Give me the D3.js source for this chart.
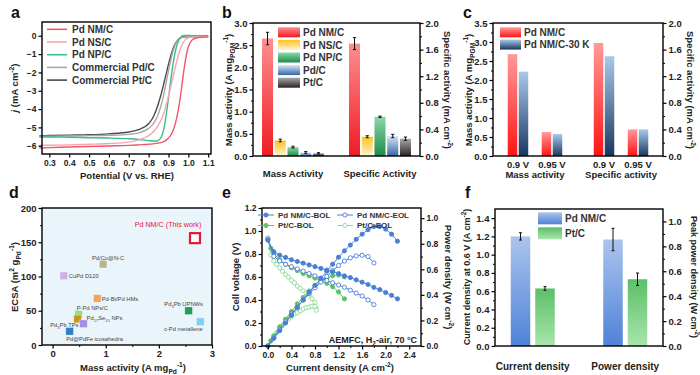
<!DOCTYPE html>
<html><head><meta charset="utf-8">
<script src="https://cdn.jsdelivr.net/npm/d3@7"></script>
<style>body{margin:0;background:#fff} svg{display:block}</style>
</head><body><svg id="c" width="700" height="375"></svg>
<script>
// ---------------- DATA ----------------
// Panel a: LSV curves
const aPotential = [0.25,0.3,0.4,0.5,0.6,0.7,0.75,0.8,0.82,0.84,0.86,0.87,0.88,0.89,0.9,0.91,0.92,0.93,0.94,0.95,0.96,0.97,0.98,0.99,1.0,1.02,1.04,1.07,1.1];
const aSeries = ["Pd NM/C","Pd NS/C","Pd NP/C","Commercial Pd/C","Commercial Pt/C"];
const aNM = [-6.12,-6.1,-6.07,-6.04,-6.01,-5.98,-5.95,-5.92,-5.9,-5.87,-5.83,-5.8,-5.75,-5.68,-5.58,-5.45,-5.25,-4.95,-4.55,-4.0,-3.3,-2.5,-1.7,-1.05,-0.6,-0.22,-0.12,-0.08,-0.06];
const aNS = [-5.98,-5.97,-5.95,-5.92,-5.88,-5.8,-5.68,-5.45,-5.28,-5.02,-4.65,-4.4,-4.1,-3.72,-3.3,-2.85,-2.38,-1.9,-1.45,-1.05,-0.72,-0.45,-0.28,-0.18,-0.12,-0.08,-0.06,-0.05,-0.05];
const aNP = [-5.52,-5.52,-5.54,-5.56,-5.58,-5.62,-5.66,-5.72,-5.74,-5.74,-5.6,-5.35,-4.9,-4.2,-3.4,-2.55,-1.75,-1.1,-0.6,-0.28,-0.1,0.0,0.02,0.02,0.02,0.0,0.0,0.0,0.0];
const aPdC = [-5.48,-5.48,-5.47,-5.45,-5.43,-5.38,-5.3,-5.05,-4.85,-4.5,-3.9,-3.5,-3.0,-2.45,-1.9,-1.4,-0.95,-0.6,-0.35,-0.2,-0.12,-0.08,-0.06,-0.05,-0.05,-0.05,-0.05,-0.05,-0.05];
const aPtC = [-5.45,-5.44,-5.42,-5.4,-5.35,-5.25,-5.12,-4.8,-4.5,-4.0,-3.3,-2.9,-2.45,-2.0,-1.55,-1.15,-0.8,-0.52,-0.33,-0.2,-0.13,-0.09,-0.07,-0.06,-0.05,-0.05,-0.05,-0.05,-0.05];
const aXTicks = [0.3,0.4,0.5,0.6,0.7,0.8,0.9,1.0,1.1];
const aYTicks = [-6,-5,-4,-3,-2,-1,0];

// Panel b
const bSeries = ["Pd NM/C","Pd NS/C","Pd NP/C","Pd/C","Pt/C"];
const bGroups = ["Mass Activity","Specific Activity"];
const bMass = [2.65,0.35,0.20,0.08,0.06];
const bMassErr = [0.14,0.03,0.02,0.02,0.015];
const bSpec = [1.69,0.29,0.59,0.30,0.26];
const bSpecErr = [0.09,0.015,0.01,0.025,0.025];
const bLeftTicks = [0,0.5,1.0,1.5,2.0,2.5,3.0];
const bRightTicks = [0,0.4,0.8,1.2,1.6,2.0];

// Panel c
const cSeries = ["Pd NM/C","Pd NM/C-30 K"];
const cGroups = ["Mass activity","Specific activity"];
const cVolts = ["0.9 V","0.95 V"];
const cMassNM = [2.68,0.63];
const cMass30K = [2.22,0.58];
const cSpecNM = [1.70,0.40];
const cSpec30K = [1.50,0.40];
const cLeftTicks = [0,0.5,1.0,1.5,2.0,2.5,3.0,3.5];
const cRightTicks = [0,0.4,0.8,1.2,1.6,2.0];

// Panel d
const dNames = ["Pd NM/C (This work)","Pd/Co@N-C","CuPd D120","Pd-Bi/Pd HMs","P-Pd NPs/C","Pd17Se15 NPs","Pd3Pb TPs","Pd@PdFe icosahedra","Pd3Pb UPNWs","c-Pd metallene"];
const dMass = [2.68,0.95,0.21,0.84,0.49,0.47,0.58,0.32,2.56,2.78];
const dECSA = [156,118,101,68,45,38,31,20,50,34];
const dXTicks = [0,1,2,3];
const dYTicks = [0,50,100,150,200];

// Panel e
const eSeries = ["Pd NM/C-BOL","Pd NM/C-EOL","Pt/C-BOL","Pt/C-EOL"];
const eI_nmBol = [0,0.1,0.2,0.3,0.4,0.5,0.6,0.7,0.8,0.9,1.0,1.1,1.2,1.3,1.4,1.5,1.6,1.7,1.8,1.9,2.0,2.1,2.2];
const eV_nmBol = [0.92,0.82,0.79,0.77,0.75,0.735,0.72,0.705,0.69,0.675,0.66,0.645,0.63,0.61,0.595,0.575,0.555,0.535,0.51,0.49,0.465,0.44,0.41];
const eP_nmBol = [0,0.06,0.12,0.18,0.24,0.30,0.36,0.42,0.475,0.53,0.585,0.64,0.695,0.745,0.79,0.835,0.875,0.91,0.935,0.935,0.915,0.875,0.82];
const eI_nmEol = [0,0.1,0.2,0.3,0.4,0.5,0.6,0.7,0.8,0.9,1.0,1.1,1.2,1.3,1.4,1.5,1.6,1.7,1.8];
const eV_nmEol = [0.93,0.78,0.74,0.71,0.69,0.67,0.65,0.63,0.61,0.59,0.57,0.55,0.53,0.51,0.485,0.46,0.435,0.40,0.36];
const eP_nmEol = [0,0.065,0.13,0.19,0.25,0.305,0.36,0.41,0.455,0.5,0.545,0.59,0.63,0.665,0.69,0.705,0.71,0.7,0.65];
const eI_ptBol = [0,0.05,0.1,0.2,0.3,0.4,0.5,0.6,0.7,0.8,0.9,1.0,1.1,1.2,1.3];
const eV_ptBol = [0.93,0.85,0.80,0.75,0.71,0.68,0.655,0.63,0.61,0.59,0.57,0.545,0.515,0.47,0.41];
const eP_ptBol = [0,0.04,0.08,0.15,0.21,0.27,0.33,0.38,0.43,0.47,0.505,0.53,0.55,0.555,0.54];
const eI_ptEol = [0,0.05,0.1,0.15,0.2,0.25,0.3,0.35,0.4,0.45,0.5,0.55,0.6,0.65,0.7,0.75,0.8,0.82];
const eV_ptEol = [0.94,0.79,0.74,0.71,0.68,0.65,0.62,0.60,0.57,0.55,0.52,0.50,0.48,0.46,0.44,0.41,0.38,0.33];
const eP_ptEol = [0,0.04,0.075,0.105,0.135,0.16,0.185,0.21,0.23,0.25,0.26,0.275,0.29,0.30,0.305,0.31,0.31,0.28];
const eXTicks = [0,0.4,0.8,1.2,1.6,2.0,2.4];
const eLeftTicks = [0,0.2,0.4,0.6,0.8,1.0,1.2];
const eRightTicks = [0,0.2,0.4,0.6,0.8,1.0];

// Panel f
const fSeries = ["Pd NM/C","Pt/C"];
const fGroups = ["Current density","Power density"];
const fNM = [1.20,0.855];
const fNMErr = [0.04,0.09];
const fPt = [0.63,0.536];
const fPtErr = [0.02,0.05];
const fLeftTicks = [0,0.2,0.4,0.6,0.8,1.0,1.2,1.4];
const fRightTicks = [0,0.2,0.4,0.6,0.8,1.0];

// ---------------- HELPERS ----------------
const FONT = "'Liberation Sans', Arial, Helvetica, sans-serif";
const svg = d3.select("#c").attr("font-family", FONT);
svg.append("rect").attr("width",700).attr("height",375).attr("fill","#fff");
const defs = svg.append("defs");
function grad(id, top, bottom, mid) {
  const lg = defs.append("linearGradient").attr("id",id).attr("x1",0).attr("y1",0).attr("x2",0).attr("y2",1);
  lg.append("stop").attr("offset","0%").attr("stop-color",top);
  if (mid) lg.append("stop").attr("offset","50%").attr("stop-color",mid);
  lg.append("stop").attr("offset","100%").attr("stop-color",bottom);
  return `url(#${id})`;
}
function rich(parent, parts, fs, weight) {
  const t = parent.append("text").attr("font-size", fs).attr("font-weight", weight||"bold").attr("fill","#222");
  let shift = 0;
  parts.forEach(p => {
    let s = p, k = "n";
    if (Array.isArray(p)) { s = p[0]; k = p[1]; }
    const target = k==="sub" ? 0.28*fs : k==="sup" ? -0.42*fs : 0;
    const ts = t.append("tspan").text(s).attr("dy", target - shift);
    shift = target;
    if (k==="sub"||k==="sup") ts.attr("font-size", 0.7*fs);
    if (k==="i") ts.attr("font-style","italic");
  });
  return t;
}
function title(x, y, rot, parts, fs) {
  const g = svg.append("g").attr("transform", `translate(${x},${y}) rotate(${rot})`);
  rich(g, parts, fs).attr("text-anchor","middle").attr("y", 0.35*fs);
}
function label(x, y, parts, fs, anchor) {
  rich(svg, parts, fs).attr("x", x).attr("y", y).attr("text-anchor", anchor||"middle");
}
function axis(orient, scale, ticks, fmt, pos, fs, minor) {
  const gen = {bottom:d3.axisBottom,left:d3.axisLeft,right:d3.axisRight}[orient];
  const ax = gen(scale).tickValues(ticks).tickFormat(fmt).tickSizeInner(3.5).tickSizeOuter(0).tickPadding(2);
  const tr = orient==="bottom" ? `translate(0,${pos})` : `translate(${pos},0)`;
  const a = svg.append("g").attr("transform", tr).call(ax).attr("font-family", FONT).attr("font-size", fs).attr("font-weight","bold");
  a.select(".domain").remove();
  a.selectAll("line").attr("stroke","#000").attr("stroke-width",1.2);
  a.selectAll("text").attr("fill","#222");
  if (minor) {
    const m = svg.append("g").attr("transform", tr).call(gen(scale).tickValues(minor).tickFormat("").tickSizeInner(2).tickSizeOuter(0));
    m.select(".domain").remove();
    m.selectAll("line").attr("stroke","#000").attr("stroke-width",1);
  }
}
function frame(x0, y0, x1, y1, fill) {
  svg.append("rect").attr("x",x0).attr("y",y0).attr("width",x1-x0).attr("height",y1-y0)
    .attr("fill", fill||"none").attr("stroke","#000").attr("stroke-width",1.4);
}
function letter(ch, x, y) {
  svg.append("text").attr("x",x).attr("y",y).text(ch).attr("font-size",16).attr("font-weight","bold").attr("fill","#111");
}
function errBar(g, x, y0, y1, cap) {
  g.append("line").attr("x1",x).attr("x2",x).attr("y1",y0).attr("y2",y1).attr("stroke","#111").attr("stroke-width",1);
  [y0,y1].forEach(y => g.append("line").attr("x1",x-cap).attr("x2",x+cap).attr("y1",y).attr("y2",y).attr("stroke","#111").attr("stroke-width",1));
}
const f1 = d3.format(".1f");
const range = (a,b,s) => d3.range(a, b+1e-9, s);

// ---------------- PANEL A ----------------
{
  const x = d3.scaleLinear().domain([0.263,1.114]).range([42,211]);
  const y = d3.scaleLinear().domain([-6.45,0.75]).range([154,22]);
  const cols = ["#f0566c","#f5a7ae","#3dbb8f","#a8a8a8","#4a4a4a"];
  const ys = [aNM, aNS, aNP, aPdC, aPtC];
  const line = d3.line().x(d => x(d[0])).y(d => y(d[1])).curve(d3.curveMonotoneX);
  const g = svg.append("g");
  [4,3,2,1,0].forEach(i => {
    g.append("path").attr("d", line(aPotential.map((v,k)=>[v, ys[i][k]])))
      .attr("fill","none").attr("stroke",cols[i]).attr("stroke-width",1.4);
  });
  frame(42,22,211,154);
  axis("bottom", x, aXTicks, f1, 154, 8.5);
  axis("left", y, aYTicks, d3.format("d"), 42, 8.5);
  aSeries.forEach((s,i) => {
    const yy = 29.3 + i*12.7;
    svg.append("line").attr("x1",47).attr("x2",67).attr("y1",yy).attr("y2",yy).attr("stroke",cols[i]).attr("stroke-width",1.6);
    svg.append("text").attr("x",72).attr("y",yy+3.6).text(s).attr("font-size",10).attr("font-weight","bold").attr("fill","#333");
  });
  title(15, 88, -90, [["j","i"]," (mA cm",["-2","sup"],")"], 9.5);
  label(127, 178.5, ["Potential (V vs. RHE)"], 9.5);
  letter("a", 11, 18);
}

// ---------------- PANEL B ----------------
{
  const yL = d3.scaleLinear().domain([0,3]).range([156,23]);
  const yR = d3.scaleLinear().domain([0,2]).range([156,23]);
  const xg = d3.scalePoint().domain(bGroups).range([253,420]).padding(0.46);
  const xi = d3.scaleBand().domain(bSeries).range([-31,31]).paddingInner(0.134).paddingOuter(0);
  const fills = [
    grad("bR","#ff8e8e","#ee1c24"),
    grad("bY","#ffc21e","#fff3d2"),
    grad("bG","#8ad9a6","#1e8a4c"),
    grad("bB","#d6e5f5","#3566a6"),
    grad("bK","#a8a8a8","#2e2222")
  ];
  const g = svg.append("g");
  bGroups.forEach((grp, gi) => {
    const vals = gi===0 ? bMass : bSpec, errs = gi===0 ? bMassErr : bSpecErr, sc = gi===0 ? yL : yR;
    bSeries.forEach((s, i) => {
      const x0 = xg(grp) + xi(s), w = xi.bandwidth();
      g.append("rect").attr("x",x0).attr("y",sc(vals[i])).attr("width",w).attr("height",sc(0)-sc(vals[i]))
        .attr("fill",fills[i]);
      errBar(g, x0+w/2, sc(vals[i]+errs[i]), sc(vals[i]-errs[i]), 1.6);
    });
    label(xg(grp), 176.5, [grp], 9.5);
  });
  frame(253,23,420,156);
  axis("left", yL, bLeftTicks, f1, 253, 9.5, range(0.25,2.75,0.5));
  axis("right", yR, bRightTicks, f1, 420, 9.5, range(0.2,1.8,0.4));
  bSeries.forEach((s,i) => {
    const yy = 32.3 + i*12.6;
    svg.append("rect").attr("x",278).attr("y",yy-5).attr("width",22).attr("height",10).attr("fill",fills[i]);
    svg.append("text").attr("x",303).attr("y",yy+3.6).text(s).attr("font-size",10).attr("font-weight","bold").attr("fill","#333");
  });
  title(229, 90, -90, ["Mass activity (A mg",["PGM","sub"],["-1","sup"],")"], 9.5);
  title(447, 90, 90, ["Specific activity (mA cm",["-2","sup"],")"], 9.5);
  letter("b", 222, 18);
}

// ---------------- PANEL C ----------------
{
  const yL = d3.scaleLinear().domain([0,3.5]).range([156,23]);
  const yR = d3.scaleLinear().domain([0,2]).range([156,23]);
  const xg = d3.scalePoint().domain(cGroups).range([493,663]).padding(0.488);
  const xv = d3.scalePoint().domain(cVolts).range([-17,17]);
  const xs = d3.scaleBand().domain(cSeries).range([-10.25,10.25]).paddingInner(0.136).paddingOuter(0);
  const fills = [grad("cR","#ff9a9a","#ff1414"), grad("cB","#a9c9ea","#1b3761")];
  const g = svg.append("g");
  cGroups.forEach((grp, gi) => {
    const sets = gi===0 ? [cMassNM, cMass30K] : [cSpecNM, cSpec30K];
    const sc = gi===0 ? yL : yR;
    cVolts.forEach((v, vi) => {
      cSeries.forEach((s, si) => {
        const val = sets[si][vi];
        const x0 = xg(grp) + xv(v) + xs(s);
        g.append("rect").attr("x",x0).attr("y",sc(val)).attr("width",xs.bandwidth()).attr("height",sc(0)-sc(val)).attr("fill",fills[si]);
      });
      label(xg(grp)+xv(v), 167.5, [v], 9.5);
    });
    label(xg(grp), 178, [grp], 9.5);
  });
  frame(493,23,663,156);
  axis("left", yL, cLeftTicks, f1, 493, 9.5, range(0.25,3.25,0.5));
  axis("right", yR, cRightTicks, f1, 663, 9.5, range(0.2,1.8,0.4));
  cSeries.forEach((s,i) => {
    const yy = 32.3 + i*12.3;
    svg.append("rect").attr("x",500).attr("y",yy-5).attr("width",21).attr("height",10).attr("fill",fills[i]);
    svg.append("text").attr("x",524).attr("y",yy+3.6).text(s).attr("font-size",10).attr("font-weight","bold").attr("fill","#333");
  });
  title(469, 90, -90, ["Mass activity (A mg",["PGM","sub"],["-1","sup"],")"], 9.5);
  title(690, 90, 90, ["Specific activity (mA cm",["-2","sup"],")"], 9.5);
  letter("c", 463, 18);
}

// ---------------- PANEL D ----------------
{
  const x = d3.scaleLinear().domain([-0.2,3]).range([42,212]);
  const y = d3.scaleLinear().domain([0,200]).range([345,208]);
  frame(42,208,212,345,"#eaf5fb");
  const cols = ["#e8173a","#b7b58c","#c9b3e6","#f7a35c","#98d98e","#c9961c","#a48ee8","#2f7fc1","#1f9e5a","#7fcff5"];
  // label placement: [dx, dy, anchor]
  const lab = [[-27,-11,"middle"],[5,-4.5,"middle"],[5,2,"start"],[4.5,2.2,"start"],[-2,-4,"start"],[9,1.5,"start"],[-5,3.5,"end"],[-3.5,9.5,"start"],[-5,-4.5,"middle"],[-17,9.5,"middle"]];
  const nameParts = [
    ["Pd NM/C (This work)"],["Pd/Co@N-C"],["CuPd D120"],["Pd-Bi/Pd HMs"],["P-Pd NPs/C"],
    ["Pd",["17","sub"],"Se",["15","sub"]," NPs"],["Pd",["3","sub"],"Pb TPs"],["Pd@PdFe icosahedra"],
    ["Pd",["3","sub"],"Pb UPNWs"],["c-Pd metallene"]
  ];
  dNames.forEach((n,i) => {
    const px = x(dMass[i]), py = y(dECSA[i]);
    if (i===0) {
      svg.append("rect").attr("x",px-5).attr("y",py-5).attr("width",10).attr("height",10).attr("fill","#fff").attr("stroke",cols[0]).attr("stroke-width",2.2);
    } else {
      svg.append("rect").attr("x",px-3.8).attr("y",py-3.8).attr("width",7.6).attr("height",7.6).attr("fill",cols[i]).attr("stroke","#fff").attr("stroke-opacity",0.5).attr("stroke-width",0.6);
    }
    const t = rich(svg, nameParts[i], i===0 ? 7.2 : 5.8, "normal").attr("x",px+lab[i][0]).attr("y",py+lab[i][1]).attr("text-anchor",lab[i][2]);
    t.attr("fill", i===0 ? "#e8173a" : "#444");
  });
  axis("bottom", x, dXTicks, d3.format("d"), 345, 9.5, [0.5,1.5,2.5]);
  axis("left", y, dYTicks, d3.format("d"), 42, 9.5, [25,75,125,175]);
  title(15, 277, -90, ["ECSA (m",["2","sup"]," g",["Pd","sub"],["-1","sup"],")"], 9.5);
  label(133, 371, ["Mass activity (A mg",["Pd","sub"],["-1","sup"],")"], 9.5);
  letter("d", 9, 198);
}

// ---------------- PANEL E ----------------
{
  const x = d3.scaleLinear().domain([-0.1,2.6]).range([262,421]);
  const yL = d3.scaleLinear().domain([0,1.2]).range([346,208]);
  const yR = d3.scaleLinear().domain([0,1.08]).range([346,208]);
  const blue = "#4a7fd6", green = "#5cc26a", lgreen = "#8ed99a";
  const sets = [
    {I:eI_nmBol,V:eV_nmBol,P:eP_nmBol,c:blue,filled:true},
    {I:eI_nmEol,V:eV_nmEol,P:eP_nmEol,c:blue,filled:false},
    {I:eI_ptBol,V:eV_ptBol,P:eP_ptBol,c:green,filled:true},
    {I:eI_ptEol,V:eV_ptEol,P:eP_ptEol,c:lgreen,filled:false}
  ];
  const g = svg.append("g");
  [3,2,1,0].forEach(k => {
    const s = sets[k];
    [[s.V,yL],[s.P,yR]].forEach(([arr, sc]) => {
      const pts = s.I.map((v,i)=>[x(v), sc(arr[i])]);
      g.append("path").attr("d", d3.line()(pts)).attr("fill","none").attr("stroke",s.c).attr("stroke-width",1);
      pts.forEach(p => g.append("circle").attr("cx",p[0]).attr("cy",p[1]).attr("r",2.1)
        .attr("fill", s.filled ? s.c : "#fff").attr("stroke", s.c).attr("stroke-width",0.9));
    });
  });
  frame(262,208,421,346);
  axis("bottom", x, eXTicks, f1, 346, 8.5, range(0.2,2.2,0.4));
  axis("left", yL, eLeftTicks, f1, 262, 8.5, range(0.1,1.1,0.2));
  axis("right", yR, eRightTicks, f1, 421, 8.5, range(0.1,0.9,0.2));
  const legPos = [[258,215],[337,215],[258,225.5],[337,225.5]];
  eSeries.forEach((n,k) => {
    const [lx, ly] = legPos[k], s = sets[k];
    svg.append("line").attr("x1",lx).attr("x2",lx+16).attr("y1",ly).attr("y2",ly).attr("stroke",s.c).attr("stroke-width",1);
    svg.append("circle").attr("cx",lx+8).attr("cy",ly).attr("r",2.1).attr("fill", s.filled ? s.c : "#fff").attr("stroke",s.c).attr("stroke-width",0.9);
    svg.append("text").attr("x",lx+20).attr("y",ly+2.9).text(n).attr("font-size",8).attr("font-weight","bold").attr("fill","#333");
  });
  label(417, 343, ["AEMFC, H",["2","sub"],"-air, 70 °C"], 9, "end");
  title(236, 277, -90, ["Cell voltage (V)"], 9.5);
  title(448, 277, 90, ["Power density (W cm",["-2","sup"],")"], 9.5);
  label(340, 371, ["Current density (A cm",["-2","sup"],")"], 9.5);
  letter("e", 222, 198);
}

// ---------------- PANEL F ----------------
{
  const yL = d3.scaleLinear().domain([0,1.5]).range([346,209]);
  const yR = d3.scaleLinear().domain([0,1.1]).range([346,209]);
  const xg = d3.scalePoint().domain(fGroups).range([495,663]).padding(0.408);
  const xs = d3.scaleBand().domain(fSeries).range([-22,22]).paddingInner(0.204).paddingOuter(0);
  const fills = [grad("fB","#abc4ec","#4f82d8"), grad("fG","#5cbf68","#a9e5ad")];
  const vals = [fNM, fPt], errs = [fNMErr, fPtErr];
  const g = svg.append("g");
  fGroups.forEach((grp, gi) => {
    const sc = gi===0 ? yL : yR;
    fSeries.forEach((s, si) => {
      const v = vals[si][gi], e = errs[si][gi];
      const x0 = xg(grp) + xs(s), w = xs.bandwidth();
      g.append("rect").attr("x",x0).attr("y",sc(v)).attr("width",w).attr("height",sc(0)-sc(v)).attr("fill",fills[si]);
      errBar(g, x0+w/2, sc(v+e), sc(v-e), 1.5);
    });
    label(xg(grp), 370, [grp], 10);
  });
  frame(495,209,663,346);
  axis("left", yL, fLeftTicks, f1, 495, 9.5, range(0.1,1.3,0.2));
  axis("right", yR, fRightTicks, f1, 663, 9.5, range(0.1,0.9,0.2));
  fSeries.forEach((s,i) => {
    const yy = 218.3 + i*15;
    svg.append("rect").attr("x",538).attr("y",yy-6).attr("width",24).attr("height",12).attr("fill",fills[i]);
    svg.append("text").attr("x",565).attr("y",yy+3.6).text(s).attr("font-size",10).attr("font-weight","bold").attr("fill","#333");
  });
  title(467, 277, -90, ["Current density at 0.6 V (A cm",["-2","sup"],")"], 9);
  title(694, 277, 90, ["Peak  power density (W cm",["-2","sup"],")"], 9);
  letter("f", 465, 198);
}
</script></body></html>
